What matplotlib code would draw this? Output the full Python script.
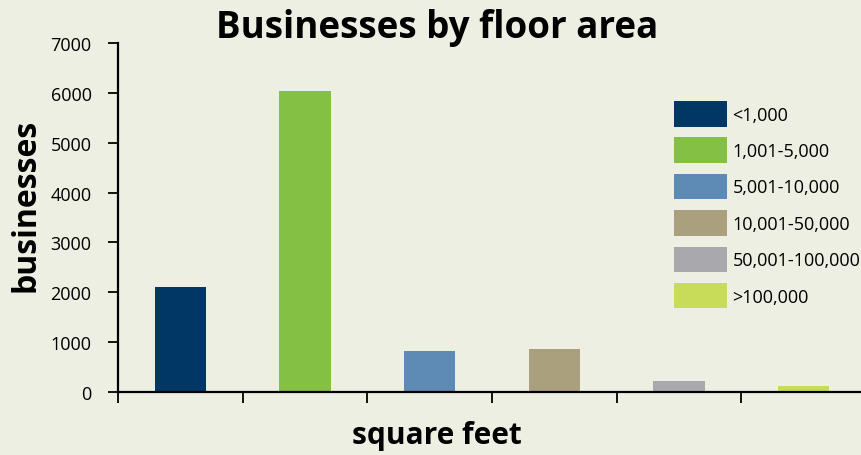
import matplotlib.pyplot as plt
from matplotlib.patches import Patch

categories = ["<1,000", "1,001-5,000", "5,001-10,000", "10,001-50,000",
              "50,001-100,000", ">100,000"]
businesses = [2100, 6030, 830, 870, 230, 130]
colors = ["#003764", "#84C044", "#5E8AB6", "#AAA07D", "#A8A8AD", "#C8DC5A"]
yticks = [0, 1000, 2000, 3000, 4000, 5000, 6000, 7000]

bg = "#EEEFE3"
plt.rcParams['font.family'] = ['Open Sans', 'DejaVu Sans']

fig = plt.figure(figsize=(8.61, 4.56), dpi=100, facecolor=bg)
ax_l, ax_b, ax_w, ax_h = 118, 393, 748, 349
ax = fig.add_axes([ax_l / 861, 1 - ax_b / 456, ax_w / 861, ax_h / 456])
ax.set_facecolor(bg)

x = [i + 0.5 for i in range(len(categories))]
ax.bar(x, businesses, width=0.41, color=colors, zorder=2)

ax.set_xlim(0, len(categories))
ax.set_ylim(0, 7000)
ax.set_xticks(range(len(categories) + 1))
ax.set_xticklabels([])
ax.set_yticks(yticks)
ax.set_yticklabels([str(v) for v in yticks], fontsize=13)
ax.tick_params(axis='x', direction='out', length=8, width=1.3, color='black')
ax.tick_params(axis='y', direction='out', length=7, width=1.3, color='black', pad=12)

for s in ['top', 'right']:
    ax.spines[s].set_visible(False)
for s in ['left', 'bottom']:
    ax.spines[s].set_linewidth(1.6)
    ax.spines[s].set_color('black')

ax.set_ylabel("businesses", fontsize=23, fontweight='bold', va='center')
ax.yaxis.set_label_coords((26 - ax_l) / ax_w, (ax_b - 205) / ax_h)
ax.set_xlabel("square feet", fontsize=21.5, fontweight='bold', va='center')
ax.xaxis.set_label_coords((437 - ax_l) / ax_w, (ax_b - 436) / ax_h)
fig.text(437 / 861, 1 - 28 / 456, "Businesses by floor area", fontsize=26.5,
         fontweight='bold', ha='center', va='center')

handles = [Patch(facecolor=c, edgecolor='none') for c in colors]
fig.legend(handles, categories, loc='upper left',
           bbox_to_anchor=(674 / 861, 1 - 102 / 456), frameon=False,
           fontsize=13, handlelength=2.93, handleheight=1.8,
           labelspacing=0.6, handletextpad=0.3, borderpad=0, borderaxespad=0)

fig.savefig("out.png", dpi=100, facecolor=bg)
